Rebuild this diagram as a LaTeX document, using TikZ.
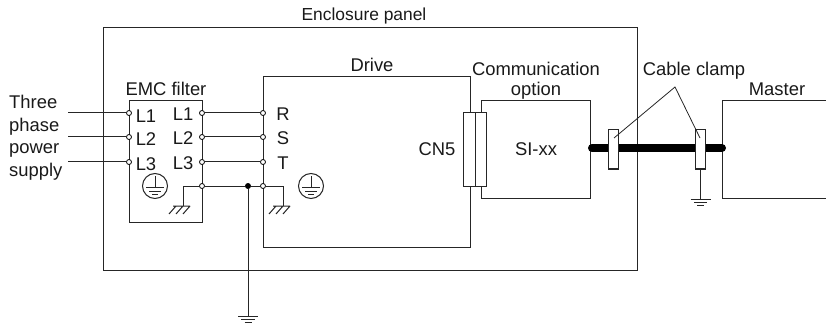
\documentclass[tikz,border=0pt]{standalone}
\usepackage{fontspec}
\setmainfont{Liberation Sans}
\begin{document}
\begin{tikzpicture}[x=1pt,y=-1pt,
  wire/.style={line width=1pt,draw=black!85},
  term/.style={circle,draw=black,fill=white,line width=0.8pt,minimum size=5pt,inner sep=0pt},
  junct/.style={circle,fill=black,minimum size=6pt,inner sep=0pt},
  lab/.style={inner sep=0pt,font=\fontsize{18.4}{21}\selectfont,text=black!90},
  clamp/.style={draw=black!85,fill=white,line width=1pt,rectangle,inner sep=0pt},
  earthring/.style={circle,draw=black!85,line width=1pt,minimum size=25pt,inner sep=0pt}]
\useasboundingbox (0,0) rectangle (826,323);
% boxes
\draw[wire] (103,28) rectangle (637,270);
\draw[wire] (263,77) rectangle (470,247);
\draw[wire] (129,101) rectangle (202,222);
\draw[wire] (481,101) rectangle (590,198);
\draw[wire] (827,101) -- (722,101) -- (722,198) -- (827,198);
% coordinates and terminals
\coordinate (in1) at (68,113); \coordinate (in2) at (68,137); \coordinate (in3) at (68,162);
\node[term] (fa1) at (129,113) {}; \node[term] (fa2) at (129,137) {}; \node[term] (fa3) at (129,162) {};
\node[term] (fb1) at (202,113) {}; \node[term] (fb2) at (202,137) {}; \node[term] (fb3) at (202,162) {};
\node[term] (dR) at (263,113) {}; \node[term] (dS) at (263,137) {}; \node[term] (dT) at (263,162) {};
\node[term] (fg) at (202,186) {}; \node[term] (dg) at (263,186) {};
\node[junct] (j) at (248,186) {};
\draw[wire] (in1)--(fa1); \draw[wire] (in2)--(fa2); \draw[wire] (in3)--(fa3);
\draw[wire] (fb1)--(dR); \draw[wire] (fb2)--(dS); \draw[wire] (fb3)--(dT);
\draw[wire] (fg)--(j); \draw[wire] (j)--(dg);
% main earth
\coordinate (e1) at (248,316);
\draw[wire] (j)--(e1);
\draw[wire] (238,316)--(258,316) (241,319.5)--(255,319.5) (244.5,322.5)--(251.5,322.5);
% chassis earth
\coordinate (c1) at (183,206); \coordinate (c2) at (283,206);
\draw[wire] (fg)-|(c1);
\draw[wire] (dg)-|(c2);
\draw[wire] (173,206)--(190,206) (176,206)--(169,214) (183,206)--(176,214) (190,206)--(183,214);
\draw[wire] (273,206)--(290,206) (276,206)--(269,214) (283,206)--(276,214) (290,206)--(283,214);
% earth rings
\foreach \n/\x in {ra/155,rb/311}{
  \node[earthring] (\n) at (\x,186) {};
  \draw[wire] (\x,176)--(\x,187) (\x-9,187)--(\x+9,187) (\x-6,191)--(\x+6,191) (\x-3,194.5)--(\x+3,194.5);
}
% connector
\node[clamp,minimum width=11.5pt,minimum height=73pt] (cn1) at (469.5,149.5) {};
\node[clamp,minimum width=11.5pt,minimum height=73pt] (cn2) at (481,149.5) {};
% cable
\draw[line width=8pt,line cap=round] (592,148)--(722,148);
\node[clamp,minimum width=10pt,minimum height=39pt] (cl1) at (613,149.5) {};
\node[clamp,minimum width=10pt,minimum height=39pt] (cl2) at (700.5,149.5) {};
% clamp earth
\coordinate (e2) at (700.5,199);
\draw[wire] (cl2.south)--(e2);
\draw[wire] (690.5,199)--(710.5,199) (694,202.5)--(707,202.5) (697,205.5)--(704,205.5);
% leaders
\coordinate (apex) at (675,87);
\draw[line width=0.8pt,draw=black!85] (614,138)--(apex)--(700,138);
% labels
\node[lab,font=\fontsize{17.4}{21}\selectfont] at (364,16) {Enclosure panel};
\node[lab] at (372,65) {Drive};
\node[lab] at (166,89) {EMC filter};
\node[lab,align=center] at (536,81) {Communication\\[-1pt]option};
\node[lab] at (694,71) {Cable clamp};
\node[lab] at (777,89) {Master};
\node[lab,align=left,anchor=north west] at (9,95) {Three\\[1.5pt]phase\\[1.5pt]power\\[1.5pt]supply};
\foreach \t/\x/\y in {L1/146/116,L2/146/139,L3/146/164,L1/183/114,L2/183/138,L3/183/163,R/283/114,S/283/138,T/283/163}
  \node[lab] at (\x,\y) {\t};
\node[lab] at (437,149) {CN5};
\node[lab] at (536,149.5) {SI-xx};
\end{tikzpicture}
\end{document}
